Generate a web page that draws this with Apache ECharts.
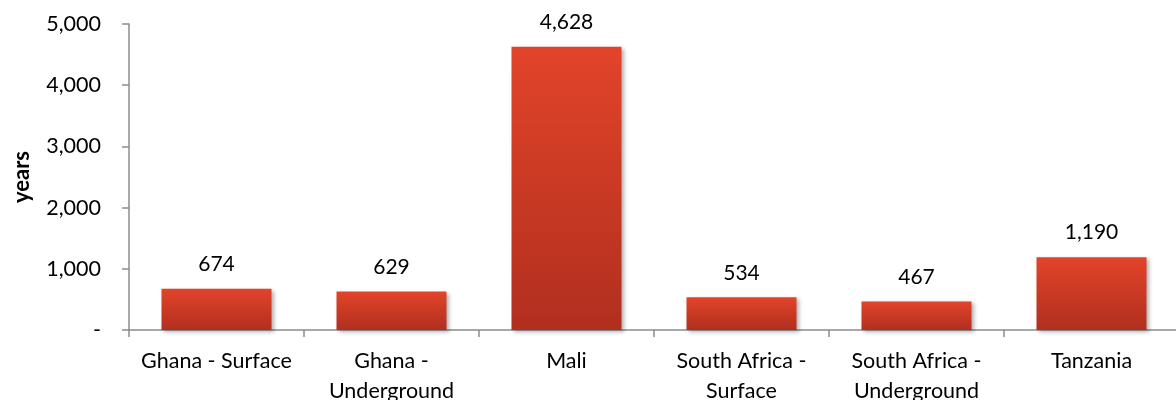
<!DOCTYPE html>
<html lang="en">
<head>
<meta charset="UTF-8">
<title>years chart</title>
<script src="https://cdn.jsdelivr.net/npm/echarts@6/dist/echarts.min.js"></script>
</head>
<body style="margin:0;padding:0;background:#fff;">
<div id="main" style="width:1176px;height:400px;"></div>
<script>
// data
let categories = ['Ghana - Surface', 'Ghana -\nUnderground', 'Mali', 'South Africa -\nSurface', 'South Africa -\nUnderground', 'Tanzania'];
let years = [674, 629, 4628, 534, 467, 1190];
let yTicks = [0, 1000, 2000, 3000, 4000, 5000];

function fmt(v) {
	return v === 0 ? '-' : v.toLocaleString('en-US');
}

var chart = echarts.init(document.getElementById('main'));
var FONT = 'Lato';

var option = {
	animation: false,
	grid: { left: 129, top: 24, width: 1050, height: 306, outerBoundsMode: 'none', containLabel: false },
	xAxis: {
		type: 'category',
		data: categories,
		axisLine: { lineStyle: { color: '#8c8c8c', width: 1.5 } },
		axisTick: { show: true, length: 7, lineStyle: { color: '#8c8c8c', width: 1.5 } },
		axisLabel: { color: '#000', fontFamily: FONT, fontSize: 21.5, margin: 16, lineHeight: 30, interval: 0 }
	},
	yAxis: {
		type: 'value',
		min: yTicks[0],
		max: yTicks[yTicks.length - 1],
		interval: 1000,
		name: 'years',
		nameLocation: 'middle',
		nameGap: 96,
		nameRotate: 90,
		nameTextStyle: { color: '#000', fontFamily: FONT, fontSize: 22, fontWeight: 'bold' },
		splitLine: { show: false },
		axisLine: { show: true, lineStyle: { color: '#8c8c8c', width: 1.5 } },
		axisTick: { show: true, length: 7, lineStyle: { color: '#8c8c8c', width: 1.5 } },
		axisLabel: { color: '#000', fontFamily: FONT, fontSize: 21.5, margin: 28, formatter: fmt }
	},
	series: [{
		type: 'bar',
		data: years,
		barWidth: 110,
		itemStyle: {
			color: new echarts.graphic.LinearGradient(0, 0, 0, 1, [
				{ offset: 0, color: '#e2442a' },
				{ offset: 1, color: '#b12f1f' }
			]),
			shadowBlur: 4,
			shadowOffsetX: 2,
			shadowOffsetY: 2,
			shadowColor: 'rgba(0,0,0,0.3)'
		},
		label: {
			show: true,
			position: 'top',
			distance: 14,
			color: '#000',
			fontFamily: FONT,
			fontSize: 21,
			formatter: function (p) { return fmt(p.value); }
		}
	}]
};

chart.setOption(option);
</script>
</body>
</html>
